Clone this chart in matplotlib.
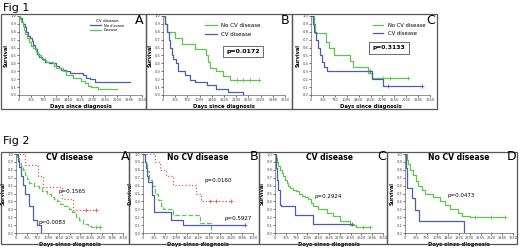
import numpy as np
import matplotlib.pyplot as plt
from matplotlib.patches import Rectangle

# ---- data (days, survival after each step) ----
xticks = [0, 365, 730, 1095, 1460, 1825, 2190, 2555, 2920, 3285, 3650]
yticks = [0.0, 0.1, 0.2, 0.3, 0.4, 0.5, 0.6, 0.7, 0.8, 0.9, 1.0]

# Fig 1 A
f1a_blue_t = [40, 80, 120, 170, 220, 280, 330, 380, 430, 480, 540, 600, 680, 780, 900, 1000, 1100, 1200, 1250, 1400, 1500, 1900, 2000, 2100, 2250]
f1a_blue_s = [0.97, 0.93, 0.9, 0.86, 0.8, 0.75, 0.72, 0.68, 0.63, 0.58, 0.52, 0.48, 0.45, 0.42, 0.41, 0.4, 0.37, 0.34, 0.32, 0.3, 0.28, 0.25, 0.22, 0.2, 0.16]
f1a_blue_end = 3285
f1a_green_t = [30, 70, 110, 150, 190, 240, 300, 350, 420, 500, 560, 650, 700, 800, 1000, 1050, 1100, 1300, 1400, 1600, 1850, 1950, 2050, 2150, 2350]
f1a_green_s = [0.96, 0.92, 0.87, 0.82, 0.77, 0.72, 0.67, 0.62, 0.59, 0.55, 0.5, 0.47, 0.44, 0.42, 0.4, 0.37, 0.34, 0.3, 0.25, 0.22, 0.18, 0.15, 0.12, 0.1, 0.08]
f1a_green_end = 2900

# Fig 1 B
f1b_green_t = [60, 120, 365, 560, 960, 1300, 1350, 1420, 1600, 1800, 2000]
f1b_green_s = [0.9, 0.8, 0.72, 0.65, 0.58, 0.5, 0.42, 0.34, 0.3, 0.24, 0.19]
f1b_green_end = 2880
f1b_green_cens = [2200, 2400, 2600, 2880]
f1b_blue_t = [60, 120, 180, 220, 260, 300, 400, 463, 661, 809, 957, 1302, 1598, 1943, 2406]
f1b_blue_s = [0.9, 0.8, 0.7, 0.6, 0.5, 0.45, 0.4, 0.3, 0.25, 0.19, 0.17, 0.13, 0.08, 0.04, 0.0]
f1b_blue_end = 2406

# Fig 1 C
f1c_green_t = [80, 130, 460, 560, 700, 1200, 1280, 1760, 1860]
f1c_green_s = [0.9, 0.78, 0.67, 0.6, 0.5, 0.43, 0.36, 0.28, 0.21]
f1c_green_end = 2990
f1c_green_cens = [2220, 2420, 2990]
f1c_blue_t = [50, 100, 150, 200, 280, 330, 400, 480, 1860, 2220]
f1c_blue_s = [0.9, 0.8, 0.7, 0.6, 0.5, 0.42, 0.36, 0.31, 0.2, 0.11]
f1c_blue_end = 3400
f1c_blue_cens = [1800, 2370, 3400]

# Fig 2 A
f2a_red_t = [306, 760, 930, 1553, 1950]
f2a_red_s = [0.865, 0.72, 0.58, 0.43, 0.285]
f2a_red_end = 2720
f2a_red_cens = [2400, 2720]
f2a_green_t = [50, 100, 160, 230, 300, 370, 450, 600, 800, 900, 1050, 1200, 1300, 1400, 1500, 1650, 1800, 1900, 2050, 2150, 2300, 2450, 2550]
f2a_green_s = [0.95, 0.9, 0.85, 0.8, 0.73, 0.68, 0.63, 0.6, 0.57, 0.53, 0.49, 0.46, 0.43, 0.4, 0.37, 0.34, 0.3, 0.26, 0.2, 0.16, 0.12, 0.09, 0.07]
f2a_green_end = 2860
f2a_green_cens = [2740, 2860]
f2a_blue_t = [79, 113, 159, 249, 306, 454, 590, 703, 850]
f2a_blue_s = [0.91, 0.83, 0.72, 0.61, 0.5, 0.34, 0.17, 0.1, 0.0]
f2a_blue_end = 850

# Fig 2 B
f2b_red_t = [387, 553, 774, 995, 1770, 1936]
f2b_red_s = [0.9, 0.8, 0.72, 0.61, 0.5, 0.4]
f2b_red_end = 2930
f2b_red_cens = [2213, 2434, 2930]
f2b_green_t = [55, 130, 200, 310, 390, 500, 610, 660, 995, 1880, 2270]
f2b_green_s = [0.9, 0.78, 0.67, 0.59, 0.5, 0.42, 0.34, 0.3, 0.23, 0.13, 0.0]
f2b_green_end = 2270
f2b_blue_t = [55, 90, 130, 170, 310, 380, 940, 1330]
f2b_blue_s = [0.9, 0.82, 0.72, 0.64, 0.48, 0.27, 0.17, 0.1]
f2b_blue_end = 3374
f2b_blue_cens = [3374]

# Fig 2 C
f2c_green_t = [30, 60, 110, 170, 220, 280, 340, 400, 450, 520, 600, 700, 800, 900, 1000, 1100, 1200, 1300, 1450, 1750, 1950, 2200, 2550, 2750]
f2c_green_s = [0.95, 0.9, 0.85, 0.8, 0.76, 0.72, 0.67, 0.63, 0.6, 0.57, 0.55, 0.53, 0.5, 0.47, 0.45, 0.43, 0.38, 0.34, 0.3, 0.25, 0.21, 0.15, 0.1, 0.08]
f2c_green_end = 3200
f2c_green_cens = [2980, 3200]
f2c_blue_t = [40, 80, 110, 170, 200, 675, 1270]
f2c_blue_s = [0.82, 0.67, 0.54, 0.36, 0.34, 0.23, 0.11]
f2c_blue_end = 2590
f2c_blue_cens = [2590]

# Fig 2 D
f2d_green_t = [56, 112, 170, 280, 370, 450, 560, 670, 960, 1180, 1350, 1520, 1690, 1800, 1910, 2190]
f2d_green_s = [0.92, 0.87, 0.8, 0.74, 0.66, 0.6, 0.55, 0.5, 0.46, 0.4, 0.36, 0.31, 0.3, 0.25, 0.21, 0.2]
f2d_green_end = 3370
f2d_green_cens = [2360, 2920, 3370]
f2d_blue_t = [40, 80, 225, 340, 485, 1990]
f2d_blue_s = [0.82, 0.57, 0.44, 0.29, 0.15, 0.0]
f2d_blue_end = 1990

GREEN = "#5cc84a"
BLUE = "#4a5db0"
RED = "#e05a5a"


def km(ax, t, s, end, color, ls="-", cens=None):
    x = [0] + list(t) + [end]
    y = [1.0] + list(s) + [s[-1]]
    line, = ax.step(x, y, where="post", color=color, lw=0.9, ls=ls)
    if cens:
        cy = [y[np.searchsorted(x, c, side="right") - 1] for c in cens]
        ax.plot(cens, cy, "+", color=color, ms=2.5, mew=0.6)
    return line


def setup(ax):
    ax.set_xlim(0, 3650)
    ax.set_ylim(0, 1.0)
    ax.set_xticks(xticks)
    ax.set_yticks(yticks)
    ax.set_xticklabels([str(v) for v in xticks], fontsize=2.6, color="#444444")
    ax.set_yticklabels(["%.1f" % v for v in yticks], fontsize=2.6, color="#444444")
    ax.tick_params(length=1.2, width=0.4, pad=0.8)
    for sp in ["top", "right"]:
        ax.spines[sp].set_visible(False)
    for sp in ["left", "bottom"]:
        ax.spines[sp].set_linewidth(0.5)
        ax.spines[sp].set_color("#666666")
    ax.set_ylabel("Survival", fontsize=3.6, fontweight="bold", labelpad=1.5)
    ax.set_xlabel("Days since diagnosis", fontsize=3.8, fontweight="bold", labelpad=1.5)
    ax.patch.set_alpha(0)


W, H = 520, 249
fig = plt.figure(figsize=(5.2, 2.49), dpi=100)


def add_axes(l, r, t, b):
    return fig.add_axes([l / W, (H - b) / H, (r - l) / W, (b - t) / H])


def box(l, r, t, b):
    fig.patches.append(Rectangle((l / W, (H - b) / H), (r - l) / W, (b - t) / H,
                                 transform=fig.transFigure, fill=False,
                                 edgecolor="#555555", lw=0.9))


fig.text(3 / W, 1 - 8 / H, "Fig 1", fontsize=8, va="center", ha="left")
fig.text(3 / W, 1 - 141 / H, "Fig 2", fontsize=8, va="center", ha="left")

for l, r in [(1, 146), (146, 292), (292, 437)]:
    box(l, r, 14, 109)
for l, r in [(1, 129), (129, 259), (259, 387), (387, 517)]:
    box(l, r, 152, 244)

# Fig 1 A
ax = add_axes(19, 142, 16, 95)
setup(ax)
hb = km(ax, f1a_blue_t, f1a_blue_s, f1a_blue_end, BLUE)
hg = km(ax, f1a_green_t, f1a_green_s, f1a_green_end, GREEN)
ax.legend([hb, hg], ["No disease", "Disease"], title="CV disease", loc="upper right",
          bbox_to_anchor=(0.88, 1.0), fontsize=2.6, title_fontsize=3,
          frameon=False, handlelength=3, labelspacing=0.1)
fig.text(143 / W, 1 - 20 / H, "A", fontsize=9, ha="right", va="center")

# Fig 1 B
ax = add_axes(163, 285, 16, 95)
setup(ax)
hg = km(ax, f1b_green_t, f1b_green_s, f1b_green_end, GREEN, cens=f1b_green_cens)
hb = km(ax, f1b_blue_t, f1b_blue_s, f1b_blue_end, BLUE)
ax.legend([hg, hb], ["No CV disease", "CV disease"], loc="upper left", bbox_to_anchor=(0.3, 0.97),
          fontsize=4, frameon=False, handlelength=2.2, labelspacing=0.6)
ax.text(0.52, 0.55, "p=0.0172", transform=ax.transAxes, fontsize=4.5, fontweight="bold",
        ha="left", va="center", bbox=dict(boxstyle="square,pad=0.5", fc="white", ec="#555555", lw=0.6))
fig.text(289 / W, 1 - 20 / H, "B", fontsize=9, ha="right", va="center")

# Fig 1 C
ax = add_axes(311, 430, 16, 95)
setup(ax)
hg = km(ax, f1c_green_t, f1c_green_s, f1c_green_end, GREEN, cens=f1c_green_cens)
hb = km(ax, f1c_blue_t, f1c_blue_s, f1c_blue_end, BLUE, cens=f1c_blue_cens)
ax.legend([hg, hb], ["No CV disease", "CV disease"], loc="upper left", bbox_to_anchor=(0.48, 0.97),
          fontsize=3.8, frameon=False, handlelength=2.0, labelspacing=0.6)
ax.text(0.52, 0.6, "p=0.3133", transform=ax.transAxes, fontsize=4.3, fontweight="bold",
        ha="left", va="center", bbox=dict(boxstyle="square,pad=0.6", fc="white", ec="#555555", lw=0.6))
fig.text(435 / W, 1 - 20 / H, "C", fontsize=9, ha="right", va="center")

# Fig 2 A
ax = add_axes(16, 123, 154, 233)
setup(ax)
km(ax, f2a_red_t, f2a_red_s, f2a_red_end, RED, ls=":", cens=f2a_red_cens)
km(ax, f2a_green_t, f2a_green_s, f2a_green_end, GREEN, ls="--", cens=f2a_green_cens)
km(ax, f2a_blue_t, f2a_blue_s, f2a_blue_end, BLUE)
ax.set_title("CV disease", fontsize=5.5, fontweight="bold", y=0.93, pad=0)
ax.text(1460, 0.52, "p=0.1565", fontsize=4, va="center")
ax.text(780, 0.13, "p=0.0083", fontsize=4, va="center")
fig.text(129 / W, 1 - 157 / H, "A", fontsize=9, ha="right", va="center")

# Fig 2 B
ax = add_axes(143, 253, 154, 233)
setup(ax)
km(ax, f2b_red_t, f2b_red_s, f2b_red_end, RED, ls=":", cens=f2b_red_cens)
km(ax, f2b_green_t, f2b_green_s, f2b_green_end, GREEN, ls="--")
km(ax, f2b_blue_t, f2b_blue_s, f2b_blue_end, BLUE, cens=f2b_blue_cens)
ax.set_title("No CV disease", fontsize=5.5, fontweight="bold", y=0.93, pad=0)
ax.text(2050, 0.66, "p=0.0160", fontsize=4, va="center")
ax.text(2700, 0.18, "p=0.5927", fontsize=4, va="center")
fig.text(258 / W, 1 - 157 / H, "B", fontsize=9, ha="right", va="center")

# Fig 2 C
ax = add_axes(275, 383, 154, 233)
setup(ax)
km(ax, f2c_green_t, f2c_green_s, f2c_green_end, GREEN, cens=f2c_green_cens)
km(ax, f2c_blue_t, f2c_blue_s, f2c_blue_end, BLUE, cens=f2c_blue_cens)
ax.set_title("CV disease", fontsize=5.5, fontweight="bold", y=0.93, pad=0)
ax.text(1350, 0.46, "p=0.2924", fontsize=4, va="center")
fig.text(386 / W, 1 - 157 / H, "C", fontsize=9, ha="right", va="center")

# Fig 2 D
ax = add_axes(405, 513, 154, 233)
setup(ax)
km(ax, f2d_green_t, f2d_green_s, f2d_green_end, GREEN, cens=f2d_green_cens)
km(ax, f2d_blue_t, f2d_blue_s, f2d_blue_end, BLUE)
ax.set_title("No CV disease", fontsize=5.5, fontweight="bold", y=0.93, pad=0)
ax.text(1450, 0.47, "p=0.0473", fontsize=4, va="center")
fig.text(516 / W, 1 - 157 / H, "D", fontsize=9, ha="right", va="center")

fig.savefig("out.png", dpi=100)
